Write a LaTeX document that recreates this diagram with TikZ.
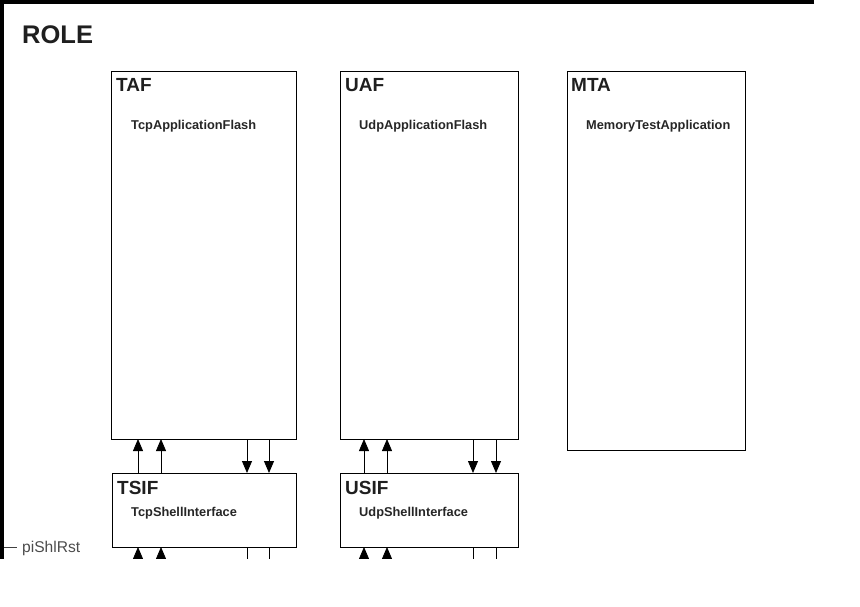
\documentclass[tikz,border=0pt]{standalone}
\usepackage{fontspec}
\setmainfont{Liberation Sans}
\usetikzlibrary{arrows.meta,calc}

\tikzset{
  blk/.style={draw, line width=1pt, inner sep=0pt, outer sep=0pt, anchor=north west},
  ttl/.style={anchor=base west, inner sep=0pt, text=black!88,
    font=\fontsize{19}{19}\selectfont\bfseries},
  sub/.style={anchor=base west, inner sep=0pt, text=black!85,
    font=\fontsize{12.8}{12.8}\selectfont\bfseries},
  sig/.style={line width=0.8pt, -{Triangle[length=12pt,width=10pt]}},
}

\begin{document}
\begin{tikzpicture}[x=1pt, y=-1pt]
\useasboundingbox (0,0) rectangle (860,606);
\begin{scope}
\clip (0,0) rectangle (860,558);
% role frame
\draw[line width=3.5pt] (814,2) -- (2,2) -- (2,620);
\node[anchor=base west, inner sep=0pt, text=black!88,
  font=\fontsize{25.5}{25.5}\selectfont\bfseries] (role) at (22,43) {ROLE};

% applications
\node[blk, minimum width=185pt, minimum height=368pt] (taf) at (111,71) {};
\node[ttl] (taft) at (116,91) {TAF};
\node[sub] (tafs) at (131,129) {TcpApplicationFlash};

\node[blk, minimum width=178pt, minimum height=368pt] (uaf) at (340,71) {};
\node[ttl] (uaft) at (345,91) {UAF};
\node[sub] (uafs) at (359,129) {UdpApplicationFlash};

\node[blk, minimum width=178pt, minimum height=379pt] (mta) at (567,71) {};
\node[ttl] (mtat) at (571,91) {MTA};
\node[sub] (mtas) at (586,129) {MemoryTestApplication};

% shell interfaces
\node[blk, minimum width=184pt, minimum height=74pt] (tsif) at (112,473) {};
\node[ttl] (tsift) at (117,494) {TSIF};
\node[sub] (tsifs) at (131,516) {TcpShellInterface};

\node[blk, minimum width=178pt, minimum height=74pt] (usif) at (340,473) {};
\node[ttl] (usift) at (345,494) {USIF};
\node[sub] (usifs) at (359,516) {UdpShellInterface};

% streams between the blocks
\foreach \dx in {27,50} {
  \draw[sig] ($(taf.south west|-tsif.north)+(\dx,0)$) -- ($(taf.south west)+(\dx,0)$);
  \draw[sig] ($(taf.south west|-tsif.south)+(\dx,40)$) -- ($(taf.south west|-tsif.south)+(\dx,0)$);
}
\foreach \dx in {136,158} {
  \draw[sig] ($(taf.south west)+(\dx,0)$) -- ($(taf.south west|-tsif.north)+(\dx,0)$);
  \draw[sig] ($(taf.south west|-tsif.south)+(\dx,0)$) -- ++(0,40);
}
\foreach \dx in {24,47} {
  \draw[sig] ($(usif.north west)+(\dx,0)$) -- ($(uaf.south west)+(\dx,0)$);
  \draw[sig] ($(usif.south west)+(\dx,40)$) -- ($(usif.south west)+(\dx,0)$);
}
\foreach \dx in {133,156} {
  \draw[sig] ($(uaf.south west)+(\dx,0)$) -- ($(usif.north west)+(\dx,0)$);
  \draw[sig] ($(usif.south west)+(\dx,0)$) -- ++(0,40);
}

% reset port
\node[anchor=west, inner sep=0pt, text=black!70,
  font=\fontsize{15.6}{15.6}\selectfont] (rst) at (22,548) {piShlRst};
\coordinate (rstport) at (4,547);
\draw[line width=0.8pt, black!75] (rstport) -- ($(rst.west)+(-5,-1)$);
\end{scope}
\end{tikzpicture}
\end{document}
